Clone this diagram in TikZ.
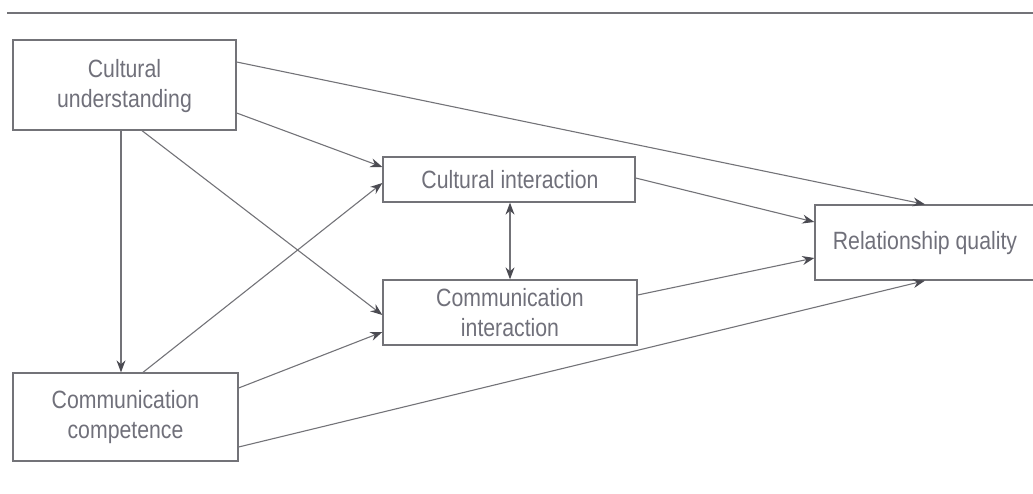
\documentclass[tikz,border=0pt]{standalone}
\usepackage{fontspec}
\setmainfont[FakeStretch=0.85]{Liberation Sans}
\usetikzlibrary{arrows.meta,calc}
\definecolor{txt}{RGB}{112,112,122}
\definecolor{ln}{RGB}{115,115,120}
\definecolor{tip}{RGB}{75,75,82}
\begin{document}
\begin{tikzpicture}[x=1pt,y=-1pt,
  box/.style={draw=ln,line width=1.3pt,rectangle,inner sep=0pt},
  lbl/.style={text=txt,font=\fontsize{25}{30}\selectfont,align=center,inner sep=0pt},
  arr/.style={draw=ln,line width=1.1pt,-{Stealth[length=12pt,width=9pt,color=tip]}},
  darr/.style={draw=ln,line width=1.1pt,{Stealth[length=12pt,width=9pt,color=tip]}-{Stealth[length=12pt,width=9pt,color=tip]}}]
\useasboundingbox (0,0) rectangle (1033,494);
\clip (0,0) rectangle (1033,494);
\coordinate (ruleL) at (7,13);
\coordinate (ruleR) at (1040,13);
\draw[ln,line width=1.8pt] (ruleL) -- (ruleR);
% boxes
\node[box,minimum width=223pt,minimum height=90pt] (cu) at (124.5,85) {};
\node[box,minimum width=225pt,minimum height=88pt] (cc) at (125.5,417) {};
\node[box,minimum width=252pt,minimum height=45pt] (ci) at (509,179.5) {};
\node[box,minimum width=254pt,minimum height=65pt] (mi) at (510,312.5) {};
\node[box,minimum width=240pt,minimum height=75pt] (rq) at (935,242.5) {};
% labels
\node[lbl] (cut) at (124.5,86) {Cultural\\understanding};
\node[lbl] (cct) at (125.5,417) {Communication\\competence};
\node[lbl] (cit) at (510,180) {Cultural interaction};
\node[lbl] (mit) at (510,313) {Communication\\interaction};
\node[lbl] (rqt) at (925,243) {Relationship quality};
% connector endpoints
\coordinate (a1) at (cu.east |- 0,62);
\coordinate (b1) at (rq.north -| 925,0);
\coordinate (a2) at (cu.east |- 0,113);
\coordinate (b2) at (ci.west |- 0,167);
\coordinate (a3) at (cu.south -| 121,0);
\coordinate (b3) at (cc.north -| 121,0);
\coordinate (a4) at (cu.south -| 142,0);
\coordinate (b4) at (mi.west |- 0,315);
\coordinate (a5) at (cc.north -| 143,0);
\coordinate (b5) at (ci.west |- 0,183);
\coordinate (a6) at (cc.east |- 0,388);
\coordinate (b6) at (mi.west |- 0,332);
\coordinate (a7) at (cc.east |- 0,447);
\coordinate (b7) at (rq.south -| 925,0);
\coordinate (a8) at (ci.east |- 0,178);
\coordinate (b8) at (rq.west |- 0,222);
\coordinate (a9) at (mi.east |- 0,295);
\coordinate (b9) at (rq.west |- 0,258);
\coordinate (a10) at (ci.south -| 510,0);
\coordinate (b10) at (mi.north -| 510,0);
\draw[arr] (a1) -- (b1);
\draw[arr] (a2) -- (b2);
\draw[arr] (a3) -- (b3);
\draw[arr] (a4) -- (b4);
\draw[arr] (a5) -- (b5);
\draw[arr] (a6) -- (b6);
\draw[arr] (a7) -- (b7);
\draw[arr] (a8) -- (b8);
\draw[arr] (a9) -- (b9);
\draw[darr] (a10) -- (b10);
\end{tikzpicture}
\end{document}
